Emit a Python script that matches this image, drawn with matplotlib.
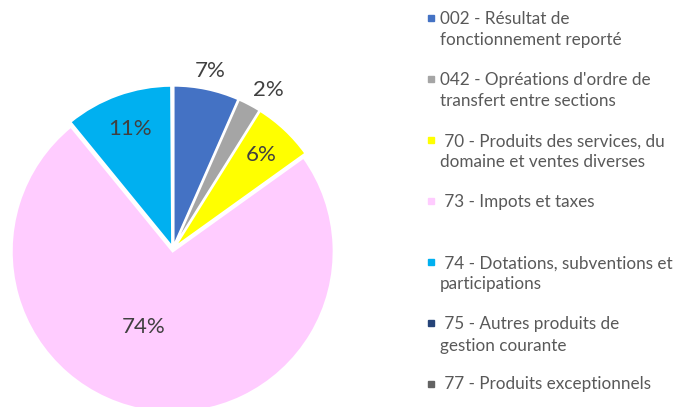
import numpy as np
import matplotlib
matplotlib.use('Agg')
import matplotlib.pyplot as plt

plt.rcParams['font.family'] = ['Lato', 'DejaVu Sans']

labels = ['002 - Résultat de\nfonctionnement reporté',
          "042 - Opréations d'ordre de\ntransfert entre sections",
          ' 70 - Produits des services, du\ndomaine et ventes diverses',
          ' 73 - Impots et taxes',
          ' 74 - Dotations, subventions et\nparticipations',
          ' 75 - Autres produits de\ngestion courante',
          ' 77 - Produits exceptionnels']
values = [6.6, 2.3, 6.2, 74.0, 10.8, 0.05, 0.05]
colors = ['#4472C4', '#A5A5A5', '#FFFF00', '#FFCCFF', '#00B0F0', '#264478', '#636363']
# placement of each percentage label: fraction of radius, angle shift in degrees
label_r = [1.13, 1.15, 0.80, 0.52, 0.79, 0.0, 0.0]
label_dt = [0, -3, 0, -13, 0, 0, 0]

W, H = 678, 407
fig = plt.figure(figsize=(W / 100, H / 100), dpi=100)

R = 161
lim = 1.04
cx, cy = 173, 249
side = 2 * R * lim
ax = fig.add_axes([(cx - side / 2) / W, (H - cy - side / 2) / H, side / W, side / H])


def fmt(p):
    return '%d%%' % round(p) if p >= 1 else ''


wedges, texts, autotexts = ax.pie(values, colors=colors, startangle=90, counterclock=False,
                                  explode=[0.015] * len(values), autopct=fmt,
                                  wedgeprops=dict(edgecolor='white', linewidth=1.5),
                                  textprops=dict(fontsize=16, color='#404040'))
for w, t, r, dt in zip(wedges, autotexts, label_r, label_dt):
    mid = np.deg2rad((w.theta1 + w.theta2) / 2 + dt)
    t.set_position((r * np.cos(mid), r * np.sin(mid)))
ax.set_xlim(-lim, lim)
ax.set_ylim(-lim, lim)
ax.set_aspect('equal')
ax.axis('off')

# legend
top = 18
step = 61
line_h = 22
for i, (lab, col) in enumerate(zip(labels, colors)):
    yc = top + i * step
    fig.patches.append(plt.Rectangle((428 / W, 1 - (yc + 3) / H), 6 / W, 6 / H, color=col,
                                     transform=fig.transFigure))
    # baseline alignment uses the last line of a multi-line text
    last = yc + 5.5 + (lab.count('\n')) * line_h
    fig.text(440 / W, 1 - last / H, lab, fontsize=12.3, color='#595959', va='baseline',
             linespacing=1.39)

fig.savefig('out.png', dpi=100)
